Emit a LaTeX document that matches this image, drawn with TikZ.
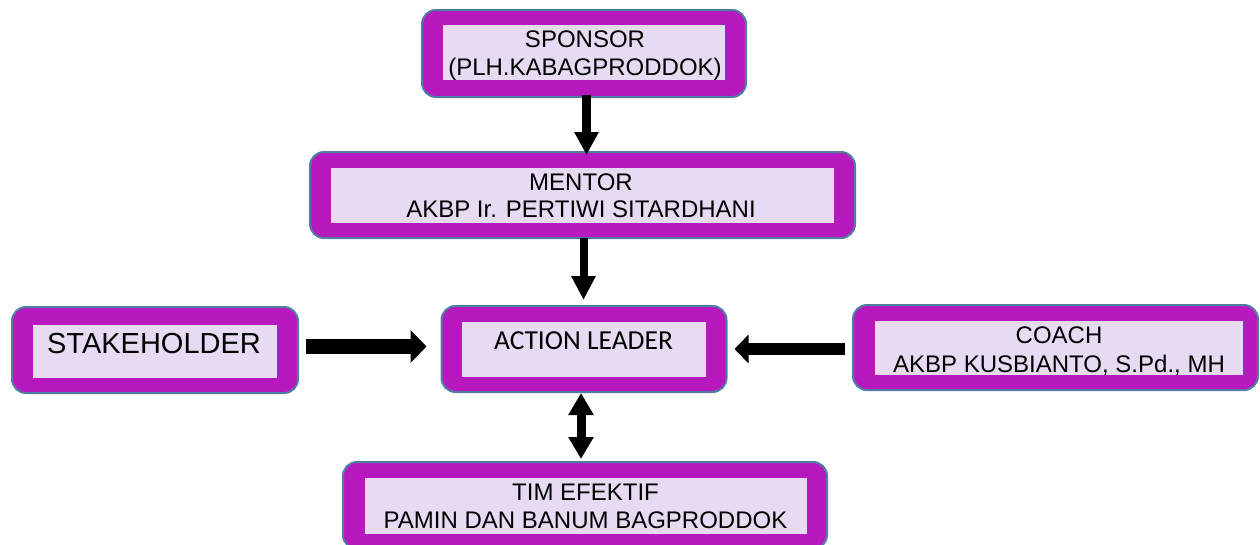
\documentclass[tikz,border=0pt]{standalone}
\usepackage{fontspec}
\setmainfont{Liberation Sans}
\newfontfamily\calibrilike{Carlito}
\usetikzlibrary{arrows.meta}

\definecolor{framefill}{HTML}{B819BF}
\definecolor{frameedge}{HTML}{4F7EA3}
\definecolor{panelfill}{HTML}{E7DBF3}

\tikzset{
  frame/.style={draw=frameedge, line width=2pt, fill=framefill,
    rounded corners=14pt, inner sep=0pt, outer sep=0pt},
  panel/.style={fill=panelfill, inner sep=0pt, outer sep=0pt},
  caption/.style={anchor=base, inner sep=0pt, font=\fontsize{24}{28}\selectfont},
  blockarrow/.style={draw=black, line width=#1},
}

\begin{document}
\begin{tikzpicture}[x=1pt, y=-1pt]
  \path[use as bounding box] (0,0) rectangle (1260,544);

  % outer frames
  \node[frame, minimum width=324pt, minimum height=87pt] (sponsor) at (584,53.5) {};
  \node[frame, minimum width=545pt, minimum height=86pt] (mentor) at (582.5,195) {};
  \node[frame, minimum width=285pt, minimum height=86pt] (action) at (584,349) {};
  \node[frame, minimum width=286pt, minimum height=86pt] (stake) at (155,350) {};
  \node[frame, minimum width=405pt, minimum height=85pt] (coach) at (1055.5,347.5) {};
  \node[frame, minimum width=484pt, minimum height=87pt] (tim) at (585,505.5) {};

  % inner panels
  \node[panel, minimum width=282pt, minimum height=55pt] (sponsorin) at (584,52.5) {};
  \node[panel, minimum width=503pt, minimum height=55pt] (mentorin) at (582.5,195) {};
  \node[panel, minimum width=244pt, minimum height=55pt] (actionin) at (584,349.5) {};
  \node[panel, minimum width=244pt, minimum height=53pt] (stakein) at (155,351.5) {};
  \node[panel, minimum width=368pt, minimum height=54pt] (coachin) at (1059,348) {};
  \node[panel, minimum width=442pt, minimum height=56pt] (timin) at (586,506) {};

  % texts, one node per line
  \node[caption] (sponsorA) at (585,47) {SPONSOR};
  \node[caption] (sponsorB) at (585,75) {(PLH.KABAGPRODDOK)};
  \node[caption] (mentorA) at (581,190) {MENTOR};
  \node[caption] (mentorB) at (581,217.5) {AKBP Ir. PERTIWI SITARDHANI};
  \node[caption, font=\calibrilike\fontsize{27.5}{32}\selectfont]
    (actiontext) at (583.5,349) {ACTION LEADER};
  \node[caption, font=\fontsize{29}{34}\selectfont]
    (staketext) at (154,353) {STAKEHOLDER};
  \node[caption] (coachA) at (1059,343) {COACH};
  \node[caption] (coachB) at (1059,372) {AKBP KUSBIANTO, S.Pd., MH};
  \node[caption] (timA) at (585.5,500) {TIM EFEKTIF};
  \node[caption] (timB) at (585.5,528) {PAMIN DAN BANUM BAGPRODDOK};

  % connectors
  \draw[blockarrow=9pt, -{Triangle[width=23pt,length=23pt]}]
    ([shift={(2.5,-2)}]sponsor.south) -- ([shift={(4,3)}]mentor.north);
  \draw[blockarrow=8pt, -{Triangle[width=23pt,length=24pt]}]
    ([shift={(1,0)}]mentor.south) -- ([shift={(-0.5,-6)}]action.north);
  \draw[blockarrow=15pt, -{Triangle[width=32pt,length=16pt]}]
    ([shift={(8,-3.5)}]stake.east) -- ([shift={(-15,-2.5)}]action.west);
  \draw[blockarrow=12pt, -{Triangle[width=28pt,length=14pt]}]
    ([shift={(-8,1.5)}]coach.west) -- ([shift={(8,0)}]action.east);
  \draw[blockarrow=9pt, {Triangle[width=24pt,length=22pt]}-{Triangle[width=24pt,length=22pt]}]
    ([shift={(-3,1)}]action.south) -- ([shift={(-4,-3)}]tim.north);
\end{tikzpicture}
\end{document}
